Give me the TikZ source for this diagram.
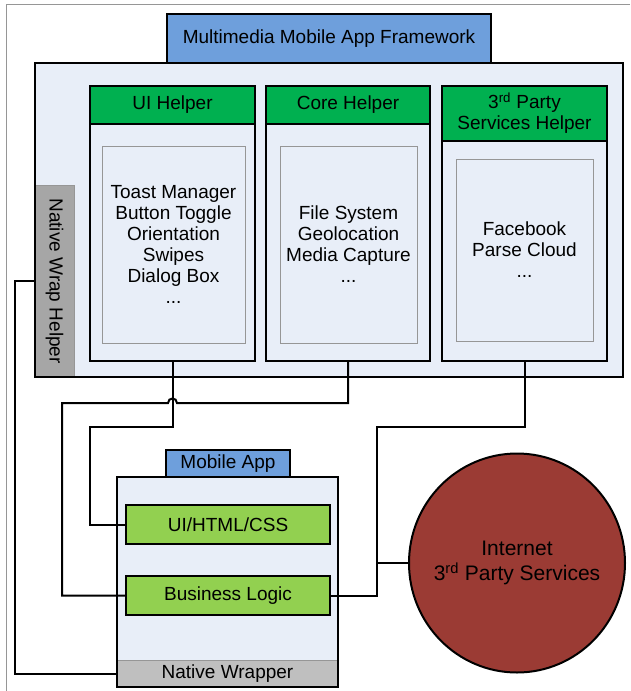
\documentclass[tikz,border=0pt]{standalone}
\usepackage{fontspec}
\setmainfont{Liberation Sans}
\usetikzlibrary{shapes.geometric}
\definecolor{hdrblue}{RGB}{110,159,220}
\definecolor{panel}{RGB}{232,238,248}
\definecolor{hdrgreen}{RGB}{0,176,80}
\definecolor{ltgreen}{RGB}{146,208,80}
\definecolor{helpergray}{RGB}{166,166,166}
\definecolor{wrapgray}{RGB}{191,191,191}
\definecolor{inetred}{RGB}{155,59,52}
\definecolor{thingray}{RGB}{150,150,150}
\begin{document}
\begin{tikzpicture}[x=1pt,y=-1pt,
  txt/.style={font=\fontsize{19}{21}\selectfont, align=center, text=black},
  box/.style={draw=black, line width=2pt, inner sep=0pt, outer sep=0pt, txt},
  thinbox/.style={draw=thingray, line width=0.9pt, inner sep=0pt, outer sep=0pt, txt},
  conn/.style={draw=black, line width=2pt}]
\useasboundingbox (0,0) rectangle (630,691);
% outer frame (top and left only visible)
\draw[thingray, line width=0.9pt] (630,4.5) -- (6,4.5) -- (6,691);

% framework panel
\node[box, fill=panel, minimum width=588pt, minimum height=314pt] (fw) at (329,220) {};
\node[box, fill=hdrblue, minimum width=324pt, minimum height=49pt] (title) at (329,38.5) {Multimedia Mobile App Framework};

% native wrap helper
\node[thinbox, fill=helpergray, minimum width=39pt, minimum height=192pt] (helper) at (54.5,281) {};
\node[txt, rotate=-90, inner sep=0pt] (helpertxt) at (helper.center) {Native Wrap Helper};
\draw[line width=2pt] (fw.north west) rectangle (fw.south east);

% columns
\node[box, fill=panel, minimum width=165pt, minimum height=275pt] (uicol) at (172.5,223.5) {};
\node[box, fill=hdrgreen, minimum width=165pt, minimum height=38pt] (uihdr) at (172.5,105) {UI Helper};
\node[thinbox, fill=panel, minimum width=143pt, minimum height=197pt] (uiin) at (173.5,244.5)
  {Toast Manager\\Button Toggle\\Orientation\\Swipes\\Dialog Box\\...};

\node[box, fill=panel, minimum width=164pt, minimum height=275pt] (corecol) at (348,223.5) {};
\node[box, fill=hdrgreen, minimum width=164pt, minimum height=38pt] (corehdr) at (348,105) {Core Helper};
\node[thinbox, fill=panel, minimum width=137pt, minimum height=197pt] (corein) at (348.5,244.5)
  {File System\\Geolocation\\Media Capture\\...};

\node[box, fill=panel, minimum width=165pt, minimum height=275pt] (thirdcol) at (524.5,223.5) {};
\node[box, fill=hdrgreen, minimum width=165pt, minimum height=55pt] (thirdhdr) at (524.5,113.5)
  {3\textsuperscript{rd} Party\\Services Helper};
\node[thinbox, fill=panel, minimum width=137pt, minimum height=182pt] (thirdin) at (524.5,250)
  {Facebook\\Parse Cloud\\...};

% mobile app
\node[box, fill=hdrblue, minimum width=124pt, minimum height=27pt] (apptab) at (228,463.5) {Mobile App};
\node[box, fill=panel, minimum width=221pt, minimum height=210pt] (app) at (227.5,582) {};
\node[thinbox, fill=wrapgray, minimum width=221pt, minimum height=27pt] (wrapper) at (227.5,673.5) {Native Wrapper};
\draw[line width=2pt] (app.north west) rectangle (app.south east);
\node[box, fill=ltgreen, minimum width=204pt, minimum height=39pt] (uihtml) at (228,524.5) {UI/HTML/CSS};
\node[box, fill=ltgreen, minimum width=204pt, minimum height=39pt] (biz) at (228,595.5) {Business Logic};

% internet
\node[ellipse, draw=black, line width=2pt, fill=inetred, minimum width=216pt, minimum height=219pt,
  inner sep=0pt] (inet) at (517,563) {};
\node[align=center, inner sep=0pt, font=\fontsize{21}{25}\selectfont] (inettxt) at (inet.center)
  {Internet\\3\textsuperscript{rd} Party Services};

% connectors
\coordinate (hop1) at (177,403);
\coordinate (hop2) at (168,403);
\coordinate (dj) at (377,563);
\draw[conn] (helper.west) -- (15,281) |- (wrapper.west);
\draw[conn] (uicol.south) |- (90,427) |- (uihtml.west);
\draw[conn] (corecol.south) |- (hop1) .. controls (177,397) and (168,397) .. (hop2) -- (62,403) |- (biz.west);
\draw[conn] (thirdcol.south) |- (377,427) |- (biz.east);
\draw[conn] (dj) -- (inet.west);
\end{tikzpicture}
\end{document}
